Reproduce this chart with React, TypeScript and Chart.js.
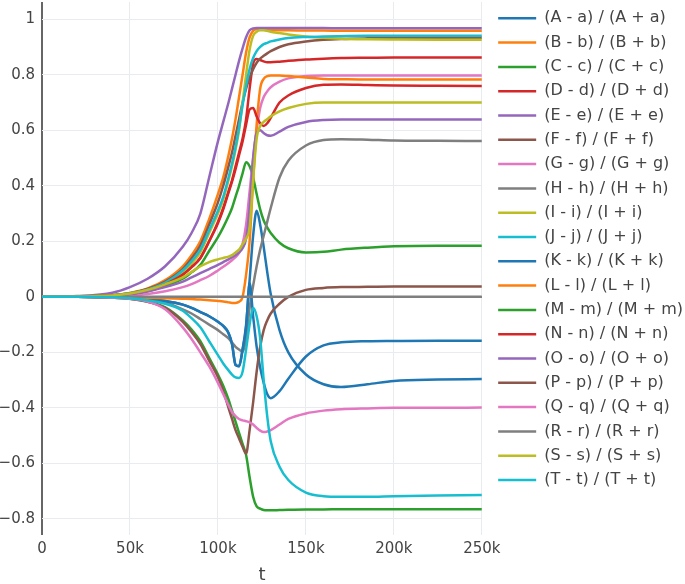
import React, { useEffect, useRef } from 'react';
import { Chart, registerables } from 'chart.js';

Chart.register(...registerables);

const tValues = [0, 20000, 40000, 50000, 60000, 70000, 80000, 85000, 90000, 95000, 100000, 103000, 106000, 108000, 110000, 112000, 114000, 116000, 118000, 120000, 122000, 124000, 126000, 128000, 130000, 135000, 140000, 150000, 160000, 170000, 185000, 200000, 225000, 250000];

const seriesA = [0, 0, -0.002, -0.004, -0.008, -0.015, -0.028, -0.04, -0.055, -0.07, -0.09, -0.105, -0.13, -0.17, -0.245, -0.25, -0.19, -0.1, 0.06, 0.22, 0.31, 0.26, 0.18, 0.09, 0.01, -0.12, -0.2, -0.28, -0.315, -0.325, -0.315, -0.303, -0.298, -0.296];
const seriesB = [0, 0.001, 0.006, 0.014, 0.03, 0.06, 0.11, 0.15, 0.2, 0.28, 0.37, 0.43, 0.51, 0.57, 0.64, 0.72, 0.8, 0.88, 0.935, 0.958, 0.964, 0.964, 0.963, 0.962, 0.961, 0.96, 0.96, 0.959, 0.959, 0.958, 0.958, 0.958, 0.958, 0.958];
const seriesC = [0, 0.001, 0.004, 0.009, 0.02, 0.04, 0.065, 0.088, 0.115, 0.165, 0.215, 0.25, 0.29, 0.32, 0.36, 0.4, 0.445, 0.485, 0.47, 0.43, 0.37, 0.315, 0.275, 0.25, 0.23, 0.195, 0.175, 0.16, 0.162, 0.17, 0.177, 0.182, 0.184, 0.184];
const seriesD = [0, 0.001, 0.005, 0.011, 0.022, 0.045, 0.08, 0.107, 0.14, 0.2, 0.27, 0.32, 0.38, 0.42, 0.47, 0.52, 0.57, 0.64, 0.75, 0.84, 0.857, 0.853, 0.848, 0.845, 0.845, 0.847, 0.85, 0.855, 0.858, 0.86, 0.861, 0.862, 0.862, 0.862];
const seriesE = [0, 0.003, 0.015, 0.035, 0.065, 0.11, 0.18, 0.23, 0.3, 0.43, 0.56, 0.63, 0.7, 0.75, 0.8, 0.85, 0.895, 0.935, 0.96, 0.967, 0.968, 0.968, 0.968, 0.968, 0.968, 0.968, 0.968, 0.968, 0.968, 0.967, 0.967, 0.967, 0.967, 0.967];
const seriesF = [0, 0.001, 0.006, 0.013, 0.028, 0.055, 0.1, 0.138, 0.185, 0.26, 0.34, 0.4, 0.47, 0.52, 0.58, 0.64, 0.7, 0.75, 0.79, 0.82, 0.843, 0.858, 0.868, 0.877, 0.885, 0.9, 0.91, 0.92, 0.926, 0.929, 0.931, 0.932, 0.933, 0.933];
const seriesG = [0, 0, 0.002, 0.005, 0.01, 0.02, 0.035, 0.046, 0.06, 0.075, 0.095, 0.108, 0.122, 0.132, 0.143, 0.158, 0.19, 0.26, 0.38, 0.5, 0.6, 0.68, 0.72, 0.74, 0.755, 0.775, 0.787, 0.795, 0.797, 0.797, 0.797, 0.797, 0.797, 0.797];
const seriesH = [0, 0, -0.002, -0.005, -0.01, -0.02, -0.045, -0.06, -0.08, -0.1, -0.12, -0.135, -0.15, -0.165, -0.18, -0.19, -0.198, -0.15, -0.04, 0.04, 0.11, 0.17, 0.22, 0.27, 0.32, 0.43, 0.49, 0.545, 0.565, 0.568, 0.566, 0.563, 0.562, 0.561];
const seriesI = [0, 0.001, 0.006, 0.012, 0.025, 0.048, 0.09, 0.12, 0.16, 0.23, 0.3, 0.35, 0.42, 0.47, 0.53, 0.6, 0.7, 0.8, 0.89, 0.94, 0.955, 0.96, 0.96, 0.958, 0.955, 0.95, 0.945, 0.938, 0.933, 0.93, 0.928, 0.927, 0.926, 0.926];
const seriesJ = [0, 0.001, 0.006, 0.013, 0.026, 0.05, 0.095, 0.128, 0.17, 0.24, 0.31, 0.36, 0.43, 0.48, 0.54, 0.61, 0.69, 0.76, 0.82, 0.86, 0.885, 0.9, 0.91, 0.915, 0.92, 0.927, 0.932, 0.936, 0.938, 0.939, 0.94, 0.94, 0.94, 0.94];
const seriesK = [0, 0, -0.002, -0.004, -0.008, -0.015, -0.028, -0.04, -0.055, -0.07, -0.09, -0.105, -0.13, -0.17, -0.245, -0.25, -0.19, -0.11, 0.05, -0.07, -0.18, -0.255, -0.31, -0.35, -0.365, -0.34, -0.295, -0.215, -0.175, -0.164, -0.16, -0.159, -0.158, -0.158];
const seriesL = [0, 0, -0.001, -0.002, -0.003, -0.005, -0.007, -0.008, -0.01, -0.012, -0.015, -0.017, -0.02, -0.022, -0.022, -0.018, 0.0, 0.08, 0.2, 0.42, 0.62, 0.75, 0.785, 0.795, 0.797, 0.797, 0.795, 0.79, 0.785, 0.784, 0.783, 0.783, 0.783, 0.783];
const seriesM = [0, 0, -0.003, -0.007, -0.017, -0.038, -0.085, -0.118, -0.16, -0.22, -0.28, -0.32, -0.37, -0.41, -0.45, -0.49, -0.53, -0.57, -0.65, -0.72, -0.755, -0.763, -0.768, -0.769, -0.769, -0.768, -0.767, -0.766, -0.766, -0.765, -0.765, -0.765, -0.765, -0.765];
const seriesN = [0, 0.001, 0.005, 0.011, 0.022, 0.045, 0.08, 0.107, 0.14, 0.2, 0.265, 0.315, 0.375, 0.415, 0.46, 0.51, 0.56, 0.62, 0.675, 0.68, 0.65, 0.625, 0.615, 0.625, 0.645, 0.7, 0.725, 0.752, 0.764, 0.765, 0.763, 0.761, 0.76, 0.759];
const seriesO = [0, 0.001, 0.004, 0.01, 0.02, 0.035, 0.055, 0.07, 0.085, 0.1, 0.115, 0.125, 0.135, 0.143, 0.15, 0.16, 0.175, 0.21, 0.32, 0.5, 0.59, 0.6, 0.59, 0.582, 0.58, 0.595, 0.612, 0.63, 0.637, 0.639, 0.639, 0.639, 0.639, 0.639];
const seriesP = [0, 0, -0.003, -0.007, -0.018, -0.04, -0.09, -0.127, -0.17, -0.23, -0.29, -0.34, -0.4, -0.44, -0.48, -0.51, -0.54, -0.565, -0.48, -0.38, -0.27, -0.18, -0.12, -0.085, -0.06, -0.025, 0.0, 0.025, 0.032, 0.035, 0.036, 0.037, 0.037, 0.037];
const seriesQ = [0, 0, -0.003, -0.007, -0.017, -0.045, -0.11, -0.152, -0.2, -0.25, -0.31, -0.35, -0.39, -0.415, -0.43, -0.44, -0.445, -0.448, -0.452, -0.46, -0.472, -0.482, -0.487, -0.485, -0.48, -0.46, -0.44, -0.42, -0.41, -0.405, -0.402, -0.4, -0.4, -0.399];
const seriesR = [0, 0, 0, 0, 0, 0, 0, 0, 0, 0, 0, 0, 0, 0, 0, 0, 0, 0, 0, 0, 0, 0, 0, 0, 0, 0, 0, 0, 0, 0, 0, 0, 0, 0];
const seriesS = [0, 0.001, 0.005, 0.012, 0.025, 0.045, 0.07, 0.09, 0.11, 0.125, 0.135, 0.14, 0.145, 0.15, 0.16, 0.17, 0.19, 0.21, 0.25, 0.42, 0.57, 0.615, 0.63, 0.64, 0.65, 0.668, 0.68, 0.695, 0.7, 0.7, 0.7, 0.7, 0.7, 0.7];
const seriesT = [0, 0, -0.002, -0.005, -0.012, -0.025, -0.05, -0.077, -0.11, -0.16, -0.21, -0.24, -0.265, -0.28, -0.29, -0.292, -0.27, -0.19, -0.1, -0.04, -0.07, -0.15, -0.3, -0.43, -0.52, -0.612, -0.66, -0.705, -0.718, -0.72, -0.72, -0.718, -0.716, -0.714];

const letters = ['A', 'B', 'C', 'D', 'E', 'F', 'G', 'H', 'I', 'J', 'K', 'L', 'M', 'N', 'O', 'P', 'Q', 'R', 'S', 'T'];
const seriesNames = letters.map((u) => `(${u} - ${u.toLowerCase()}) / (${u} + ${u.toLowerCase()})`);
const palette = ['#1f77b4', '#ff7f0e', '#2ca02c', '#d62728', '#9467bd', '#8c564b', '#e377c2', '#7f7f7f', '#bcbd22', '#17becf'];

const X_MIN = 0;
const X_MAX = 250000;
const X_STEP = 50000;
const Y_MIN = -0.858;
const Y_MAX = 1.062;
const Y_STEP = 0.2;

const FONT = '"DejaVu Sans", Verdana, sans-serif';

const legendShift = {
  id: 'legendShift',
  afterLayout(chart: any) {
    const lg = chart.legend;
    if (lg) {
      lg.left += 8;
      lg.right += 8;
    }
  },
};

const noScalePadding = (s: any) => {
  s.paddingTop = 0;
  s.paddingBottom = 0;
  s.paddingLeft = 0;
  s.paddingRight = 0;
};

export default function App() {
  const ref = useRef<HTMLCanvasElement>(null);

  useEffect(() => {
    const all = [seriesA, seriesB, seriesC, seriesD, seriesE, seriesF, seriesG, seriesH, seriesI, seriesJ, seriesK, seriesL, seriesM, seriesN, seriesO, seriesP, seriesQ, seriesR, seriesS, seriesT];
    const chart = new Chart(ref.current as HTMLCanvasElement, {
      type: 'line',
      data: {
        datasets: all.map((vals, i) => ({
          label: seriesNames[i],
          data: vals.map((y, j) => ({ x: tValues[j], y })),
          borderColor: palette[i % 10],
          backgroundColor: palette[i % 10],
          borderWidth: 2.5,
          pointRadius: 0,
          cubicInterpolationMode: 'monotone',
          fill: false,
          order: all.length - i,
        })),
      },
      options: {
        responsive: false,
        animation: false,
        layout: { padding: { top: 2, left: 0, right: 0, bottom: 0 } },
        plugins: {
          tooltip: { enabled: false },
          legend: {
            position: 'right',
            align: 'start',
            maxWidth: 260,
            labels: {
              usePointStyle: true,
              pointStyle: 'line',
              pointStyleWidth: 38,
              padding: 8.3,
              color: '#444',
              font: { family: FONT, size: 16 },
              sort: (a: any, b: any) => a.datasetIndex - b.datasetIndex,
            },
          },
        },
        scales: {
          x: {
            type: 'linear',
            min: X_MIN,
            max: X_MAX,
            afterFit: (s: any) => { s.height = 49; noScalePadding(s); },
            border: { display: false },
            grid: {
              drawTicks: false,
              color: (c: any) => (c.tick && c.tick.value === 0 ? '#666' : '#e8ebf0'),
              lineWidth: (c: any) => (c.tick && c.tick.value === 0 ? 2 : 1),
            },
            ticks: {
              stepSize: X_STEP,
              includeBounds: false,
              padding: 5,
              color: '#444',
              font: { family: FONT, size: 15 },
              maxRotation: 0,
              callback: (v: any) => (Number(v) === 0 ? '0' : `${Number(v) / 1000}k`),
            },
            title: {
              display: true,
              text: 't',
              color: '#444',
              font: { family: FONT, size: 18, lineHeight: 1 },
              padding: { top: 0, bottom: 0 },
            },
          },
          y: {
            type: 'linear',
            min: Y_MIN,
            max: Y_MAX,
            afterFit: (s: any) => { s.width = 42; noScalePadding(s); },
            border: { display: false },
            grid: {
              drawTicks: false,
              color: (c: any) => (c.tick && Math.abs(c.tick.value) < 1e-9 ? '#7f7f7f' : '#e8ebf0'),
              lineWidth: (c: any) => (c.tick && Math.abs(c.tick.value) < 1e-9 ? 2 : 1),
            },
            ticks: {
              stepSize: Y_STEP,
              includeBounds: false,
              padding: 7,
              color: '#444',
              font: { family: FONT, size: 15 },
              callback: (v: any) => {
                const n = Math.round(Number(v) * 10) / 10;
                if (n === 0) return '0';
                const s = String(Math.abs(n));
                return n < 0 ? '\u2212' + s : s;
              },
            },
          },
        },
      } as any,
      plugins: [legendShift],
    });
    return () => chart.destroy();
  }, []);

  return (
    <div style={{ position: 'fixed', left: 0, top: 0, width: 685, height: 584, background: '#fff' }}>
      <canvas ref={ref} width={685} height={584} style={{ display: 'block' }} />
    </div>
  );
}
